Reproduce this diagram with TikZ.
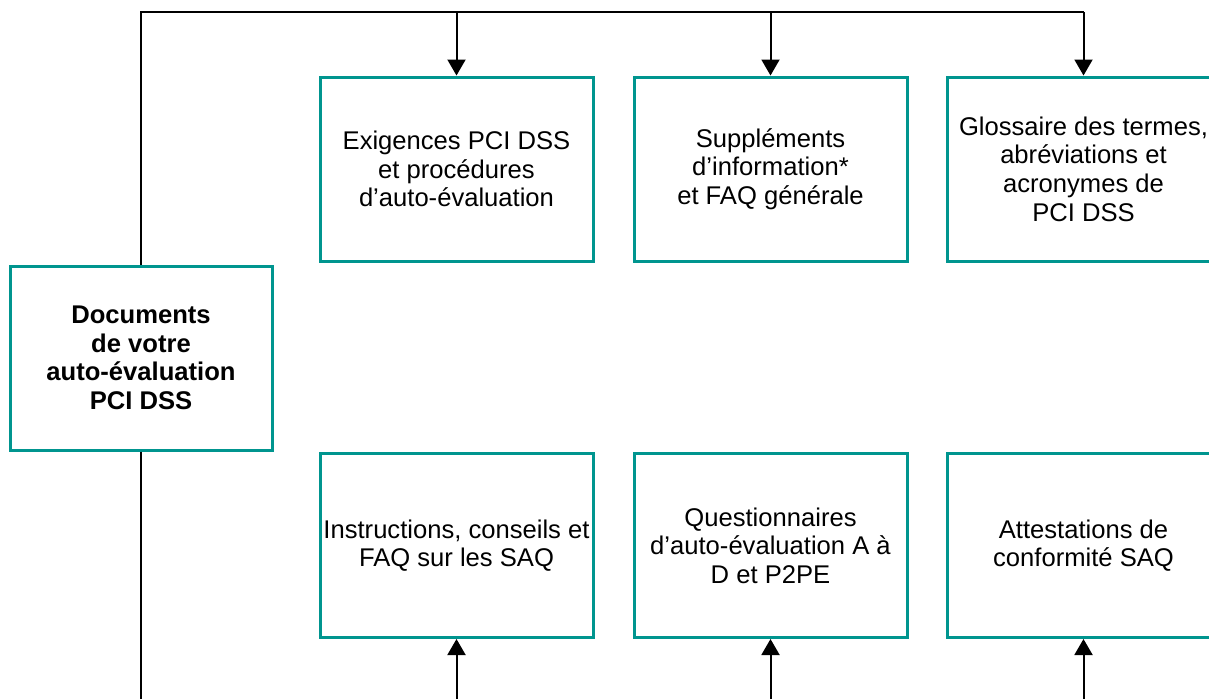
\documentclass[tikz,border=0pt]{standalone}
\usepackage{fontspec}
\setmainfont{Liberation Sans}
\usetikzlibrary{arrows.meta, positioning}

\definecolor{pciteal}{HTML}{00958F}

\begin{document}
\begin{tikzpicture}[
        x=0.5pt, y=-0.5pt,
        docbox/.style={draw=pciteal, line width=1.5pt, fill=white,
                     minimum width=136.5pt, minimum height=92pt,
                     align=center, inner xsep=0pt, inner ysep=2pt,
                     font=\fontsize{12.8}{14.3}\selectfont},
        arrow/.style={-{Triangle[length=8pt, width=9pt]}, line width=1pt},
        link/.style={line width=1pt}
    ]
        \useasboundingbox (0,0) rectangle (1209,698);
        \clip (0,0) rectangle (1209,698);
        % main document
        \node[docbox, minimum width=131pt, font=\fontsize{12.8}{14.3}\selectfont\bfseries]
            (doc) at (141,358) {Documents\\de votre\\auto-évaluation\\PCI DSS};
        % top row
        \node[docbox] (t1) at (456.5,169) {Exigences PCI DSS\\et procédures\\d’auto-évaluation};
        \node[docbox] (t2) at (770.5,169) {Suppléments\\d’information*\\et FAQ générale};
        \node[docbox] (t3) at (1083.5,169) {Glossaire des termes,\\abréviations et\\acronymes de\\PCI DSS};
        % bottom row
        \node[docbox] (b1) at (456.5,545.5) {Instructions, conseils et\\FAQ sur les SAQ};
        \node[docbox] (b2) at (770.5,545.5) {Questionnaires\\d’auto-évaluation A à\\D et P2PE};
        \node[docbox] (b3) at (1083.5,545.5) {Attestations de\\conformité SAQ};
        % bus lines
        \coordinate (top1) at (t1.north |- 0,12);
        \coordinate (top2) at (t2.north |- 0,12);
        \coordinate (top3) at (t3.north |- 0,12);
        \coordinate (bot0) at (doc.south |- 0,705);
        \coordinate (bot1) at (b1.south |- 0,705);
        \coordinate (bot2) at (b2.south |- 0,705);
        \coordinate (bot3) at (b3.south |- 0,705);
        \draw[link] (doc.north) |- (top3);
        \draw[link] (doc.south) -- (bot0);
        \draw[arrow] (top1) -- (t1.north);
        \draw[arrow] (top2) -- (t2.north);
        \draw[arrow] (top3) -- (t3.north);
        \draw[arrow] (bot1) -- (b1.south);
        \draw[arrow] (bot2) -- (b2.south);
        \draw[arrow] (bot3) -- (b3.south);
    \end{tikzpicture}
\end{document}
